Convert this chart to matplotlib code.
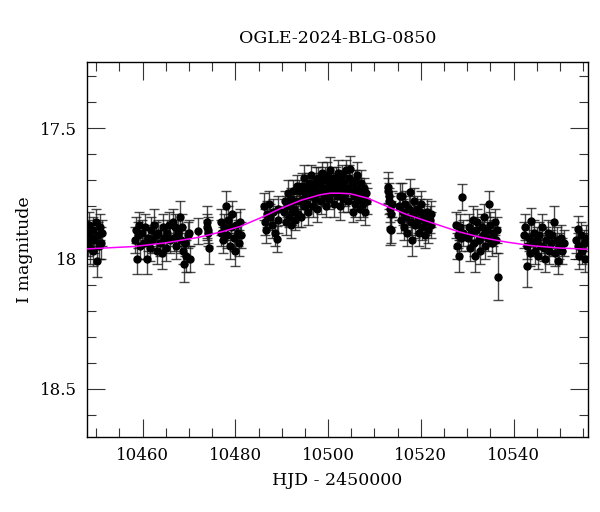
import numpy as np
import matplotlib
matplotlib.use('Agg')
import matplotlib.pyplot as plt
from matplotlib.ticker import MultipleLocator, FuncFormatter

plt.rcParams['font.family'] = ['DejaVu Serif']

title = 'OGLE-2024-BLG-0850'
xlabel = 'HJD - 2450000'
ylabel = 'I magnitude'

# observations, grouped by night blocks (HJD-2450000, I mag, error)
t_a = [10448.2, 10448.3, 10448.5, 10448.7, 10449.0, 10449.2, 10449.4, 10449.6, 10449.9, 10450.1, 10450.4, 10450.6, 10450.9, 10451.1, 10451.3]
m_a = [17.90, 17.94, 17.87, 17.96, 17.92, 17.89, 17.97, 17.93, 17.86, 18.01, 17.91, 17.95, 17.88, 17.94, 17.90]
e_a = [0.05, 0.05, 0.05, 0.06, 0.05, 0.05, 0.06, 0.05, 0.05, 0.06, 0.05, 0.05, 0.05, 0.06, 0.05]

t_b = [10458.4, 10458.5, 10458.7, 10459.0, 10459.2, 10459.5, 10459.8, 10460.2, 10460.5, 10460.9, 10461.2, 10461.5, 10461.8, 10462.1, 10462.5, 10462.8, 10463.0, 10463.4, 10463.7, 10464.1, 10464.4, 10464.7, 10465.0, 10465.3, 10465.6, 10466.0]
m_b = [17.93, 17.89, 18.00, 17.91, 17.87, 17.95, 17.90, 17.94, 17.88, 18.00, 17.92, 17.96, 17.89, 17.93, 17.87, 17.91, 17.97, 17.90, 17.94, 17.98, 17.88, 17.92, 17.96, 17.90, 17.87, 17.93]
e_b = [0.05, 0.05, 0.06, 0.05, 0.05, 0.05, 0.05, 0.06, 0.05, 0.06, 0.05, 0.05, 0.05, 0.05, 0.06, 0.05, 0.05, 0.05, 0.05, 0.06, 0.05, 0.05, 0.05, 0.05, 0.05, 0.05]

t_c = [10466.6, 10466.8, 10467.0, 10467.3, 10467.6, 10468.0, 10468.2, 10468.5, 10468.8, 10469.0, 10469.2, 10469.4, 10469.7, 10470.0, 10470.2, 10472.0]
m_c = [17.86, 17.92, 17.88, 17.95, 17.90, 17.84, 17.93, 17.88, 17.97, 18.02, 17.94, 17.99, 17.91, 17.90, 18.00, 17.895]
e_c = [0.05, 0.05, 0.05, 0.05, 0.05, 0.06, 0.05, 0.05, 0.05, 0.07, 0.05, 0.06, 0.05, 0.05, 0.05, 0.05]

t_d = [10473.8, 10473.9, 10474.0, 10474.1, 10474.3]
m_d = [17.86, 17.88, 17.89, 17.90, 17.96]
e_d = [0.06, 0.05, 0.05, 0.05, 0.06]

t_e = [10476.8, 10477.0, 10477.3, 10477.6, 10478.0, 10478.2, 10478.5, 10478.8, 10479.0, 10479.3, 10479.6, 10479.9, 10480.2, 10480.5, 10480.8, 10481.1, 10481.3]
m_e = [17.90, 17.86, 17.93, 17.88, 17.80, 17.91, 17.85, 17.95, 17.88, 17.83, 17.92, 17.97, 17.87, 17.90, 17.94, 17.86, 17.91]
e_e = [0.05, 0.05, 0.05, 0.05, 0.06, 0.05, 0.05, 0.05, 0.05, 0.05, 0.05, 0.06, 0.05, 0.05, 0.05, 0.05, 0.05]

t_f = [10486.2, 10486.4, 10486.6, 10486.8, 10487.2, 10487.5, 10487.8, 10488.1, 10488.5, 10488.9, 10489.1, 10489.3]
m_f = [17.80, 17.86, 17.89, 17.83, 17.79, 17.84, 17.87, 17.82, 17.90, 17.925, 17.85, 17.81]
e_f = [0.05, 0.05, 0.05, 0.05, 0.05, 0.05, 0.05, 0.05, 0.05, 0.05, 0.05, 0.05]

t_g = [10490.5, 10490.7, 10490.9, 10491.1, 10491.3, 10491.5, 10491.7, 10491.9, 10492.1, 10492.3,
       10492.5, 10492.7, 10492.9, 10493.1, 10493.3, 10493.5, 10493.7, 10493.9, 10494.1, 10494.3,
       10494.5, 10494.7, 10494.9, 10495.1, 10495.3, 10495.5, 10495.7, 10495.9, 10496.1, 10496.3,
       10496.5, 10496.7, 10496.9, 10497.1, 10497.3, 10497.5, 10497.7, 10497.9, 10498.1, 10498.3,
       10498.5, 10498.7, 10498.9, 10499.1, 10499.3, 10499.5, 10499.7, 10499.9, 10500.1, 10500.3,
       10500.5, 10500.7, 10500.9, 10501.1, 10501.3, 10501.5, 10501.7, 10501.9, 10502.1, 10502.3,
       10502.5, 10502.7, 10502.9, 10503.1, 10503.3, 10503.5, 10503.7, 10503.9, 10504.1, 10504.3,
       10504.5, 10504.7, 10504.9, 10505.1, 10505.3, 10505.5, 10505.7, 10505.9, 10506.1, 10506.3,
       10506.5, 10506.7, 10506.9, 10507.1, 10507.3, 10507.5, 10507.7, 10507.9, 10508.1, 10508.3]
m_g = [17.82, 17.78, 17.86, 17.80, 17.75, 17.84, 17.79, 17.87, 17.77, 17.82,
       17.74, 17.81, 17.85, 17.78, 17.72, 17.83, 17.74, 17.78, 17.84, 17.72,
       17.77, 17.69, 17.80, 17.75, 17.73, 17.79, 17.82, 17.71, 17.76, 17.68,
       17.74, 17.80, 17.72, 17.77, 17.70, 17.75, 17.81, 17.69, 17.74, 17.71,
       17.78, 17.67, 17.73, 17.76, 17.70, 17.80, 17.68, 17.74, 17.72, 17.77,
       17.66, 17.71, 17.75, 17.69, 17.79, 17.73, 17.70, 17.76, 17.67, 17.72,
       17.80, 17.70, 17.74, 17.68, 17.77, 17.71, 17.75, 17.66, 17.73, 17.78,
       17.69, 17.655, 17.74, 17.71, 17.82, 17.76, 17.70, 17.79, 17.73, 17.68,
       17.77, 17.74, 17.81, 17.71, 17.76, 17.79, 17.73, 17.82, 17.75, 17.78]
e_g = [0.05, 0.04, 0.05, 0.04, 0.05, 0.04, 0.05, 0.05, 0.04, 0.05,
       0.04, 0.05, 0.04, 0.05, 0.04, 0.05, 0.04, 0.05, 0.04, 0.05,
       0.04, 0.05, 0.04, 0.04, 0.05, 0.04, 0.05, 0.04, 0.05, 0.04,
       0.05, 0.04, 0.05, 0.04, 0.05, 0.04, 0.05, 0.04, 0.05, 0.04,
       0.05, 0.04, 0.05, 0.04, 0.05, 0.04, 0.05, 0.04, 0.05, 0.04,
       0.05, 0.04, 0.05, 0.04, 0.05, 0.04, 0.05, 0.04, 0.05, 0.04,
       0.05, 0.04, 0.05, 0.04, 0.05, 0.04, 0.05, 0.04, 0.05, 0.04,
       0.05, 0.05, 0.04, 0.05, 0.04, 0.05, 0.04, 0.05, 0.04, 0.05,
       0.04, 0.05, 0.04, 0.05, 0.04, 0.05, 0.04, 0.05, 0.04, 0.05]

t_h = [10512.9, 10513.0, 10513.1, 10513.2, 10513.3, 10513.4, 10513.5, 10513.6, 10513.8]
m_h = [17.726, 17.74, 17.76, 17.78, 17.81, 17.886, 17.89, 17.83, 17.79]
e_h = [0.06, 0.05, 0.05, 0.05, 0.05, 0.06, 0.05, 0.05, 0.05]

t_i = [10515.3, 10515.5, 10515.7, 10516.0, 10516.2, 10516.4, 10516.6, 10516.9, 10517.1, 10517.4,
       10517.7, 10517.9, 10518.1, 10518.3, 10518.6, 10518.8, 10519.1, 10519.3, 10519.6, 10519.8,
       10520.1, 10520.3, 10520.6, 10520.8, 10521.1, 10521.3, 10521.6, 10521.9, 10522.1, 10522.3]
m_i = [17.80, 17.76, 17.85, 17.758, 17.82, 17.88, 17.79, 17.84, 17.90, 17.81,
       17.745, 17.86, 17.93, 17.83, 17.78, 17.87, 17.81, 17.85, 17.90, 17.82,
       17.79, 17.88, 17.84, 17.91, 17.86, 17.82, 17.89, 17.85, 17.87, 17.83]
e_i = [0.05, 0.05, 0.05, 0.05, 0.05, 0.05, 0.05, 0.05, 0.05, 0.05,
       0.05, 0.05, 0.06, 0.05, 0.05, 0.05, 0.05, 0.05, 0.05, 0.05,
       0.05, 0.05, 0.05, 0.05, 0.05, 0.05, 0.05, 0.05, 0.05, 0.05]

t_j = [10527.6, 10527.8, 10528.0, 10528.2, 10528.5, 10528.7, 10528.9, 10529.1]
m_j = [17.87, 17.95, 17.91, 17.99, 17.88, 17.92, 17.764, 17.90]
e_j = [0.05, 0.05, 0.05, 0.06, 0.05, 0.05, 0.05, 0.05]

t_k = [10530.1, 10530.3, 10530.6, 10530.9, 10531.2, 10531.4, 10531.7, 10532.0, 10532.2, 10532.5,
       10532.8, 10533.1, 10533.4, 10533.6, 10533.9, 10534.2, 10534.5, 10534.8, 10535.0, 10535.3,
       10535.6, 10535.9, 10536.2, 10536.5, 10536.7]
m_k = [17.92, 17.88, 17.96, 17.90, 17.85, 17.94, 17.99, 17.89, 17.86, 17.93,
       17.97, 17.88, 17.91, 17.84, 17.95, 17.89, 17.92, 17.79, 17.87, 17.94,
       17.90, 17.86, 17.93, 17.89, 18.07]
e_k = [0.05, 0.05, 0.05, 0.05, 0.05, 0.05, 0.06, 0.05, 0.05, 0.05,
       0.05, 0.05, 0.05, 0.05, 0.05, 0.05, 0.05, 0.05, 0.05, 0.05,
       0.05, 0.05, 0.05, 0.05, 0.09]

t_l = [10542.3, 10542.5, 10542.8, 10543.0, 10543.3, 10543.6, 10543.8, 10544.1, 10544.4, 10544.7,
       10545.0, 10545.3, 10545.6, 10545.9, 10546.2, 10546.5, 10546.8, 10547.1, 10547.4, 10547.7,
       10548.0, 10548.3, 10548.7, 10549.0, 10549.3, 10549.6, 10549.9, 10550.2, 10550.5, 10550.8]
m_l = [17.91, 17.88, 18.03, 17.95, 17.92, 17.98, 17.855, 17.94, 17.90, 17.97,
       17.93, 17.99, 17.91, 17.95, 17.88, 17.96, 18.00, 17.93, 17.90, 17.97,
       17.94, 17.91, 17.86, 17.98, 17.93, 18.01, 17.95, 17.92, 17.97, 17.94]
e_l = [0.05, 0.05, 0.08, 0.05, 0.05, 0.05, 0.05, 0.05, 0.05, 0.05,
       0.05, 0.05, 0.05, 0.05, 0.05, 0.05, 0.05, 0.05, 0.05, 0.05,
       0.05, 0.05, 0.06, 0.05, 0.05, 0.05, 0.05, 0.05, 0.05, 0.05]

t_m = [10553.5, 10553.8, 10554.0, 10554.2, 10554.5, 10554.8, 10555.1, 10555.4, 10555.7]
m_m = [17.93, 17.886, 17.95, 17.99, 17.91, 17.97, 17.94, 18.00, 17.92]
e_m = [0.05, 0.05, 0.05, 0.05, 0.05, 0.05, 0.05, 0.05, 0.05]

# model curve
model_t = [10447.9, 10458.0, 10464.5, 10471.7, 10476.7, 10481.0, 10485.3, 10489.6, 10494.0,
           10498.3, 10500.4, 10502.6, 10504.8, 10508.4, 10512.7, 10517.0, 10522.0, 10527.8,
           10532.8, 10537.9, 10543.6, 10549.4, 10555.9]
model_mag = [17.963, 17.954, 17.941, 17.920, 17.899, 17.877, 17.845, 17.809, 17.777,
             17.755, 17.749, 17.749, 17.751, 17.767, 17.800, 17.831, 17.860, 17.895,
             17.918, 17.935, 17.950, 17.959, 17.964]

hjd = np.concatenate([t_a, t_b, t_c, t_d, t_e, t_f, t_g, t_h, t_i, t_j, t_k, t_l, t_m])
mag = np.concatenate([m_a, m_b, m_c, m_d, m_e, m_f, m_g, m_h, m_i, m_j, m_k, m_l, m_m])
err = np.concatenate([e_a, e_b, e_c, e_d, e_e, e_f, e_g, e_h, e_i, e_j, e_k, e_l, e_m])

fig = plt.figure(figsize=(6.0, 5.12), dpi=100)
ax = fig.add_axes([0.145, 0.1465, 0.8345, 0.7325])

ax.errorbar(hjd, mag, yerr=err, fmt='o', ms=5, mfc='k', mec='k',
            ecolor=(0.1, 0.1, 0.1, 0.8), elinewidth=1.0, capsize=3.5, capthick=1.0, zorder=2)

# smooth the model through the read points
tt = np.linspace(model_t[0], model_t[-1], 400)
ax.plot(tt, np.interp(tt, model_t, model_mag), color='#ff00ff', lw=1.1, zorder=3)

ax.set_xlim(10448, 10556)
ax.set_ylim(18.685, 17.245)

ax.xaxis.set_major_locator(MultipleLocator(20))
ax.xaxis.set_minor_locator(MultipleLocator(5))
ax.yaxis.set_major_locator(MultipleLocator(0.5))
ax.yaxis.set_minor_locator(MultipleLocator(0.1))
ax.yaxis.set_major_formatter(FuncFormatter(lambda v, p: '%g' % v))

ax.tick_params(which='both', direction='in', top=True, right=True, width=0.8,
               labelsize=12, color='0.2')
ax.tick_params(which='major', length=13, pad=7)
ax.tick_params(which='minor', length=6.5)
for s in ax.spines.values():
    s.set_linewidth(1.0)

ax.set_title(title, fontsize=12.5, pad=14)
ax.set_xlabel(xlabel, fontsize=12.5, labelpad=6)
ax.set_ylabel(ylabel, fontsize=12.5, labelpad=5)

fig.savefig('out.png', dpi=100)
